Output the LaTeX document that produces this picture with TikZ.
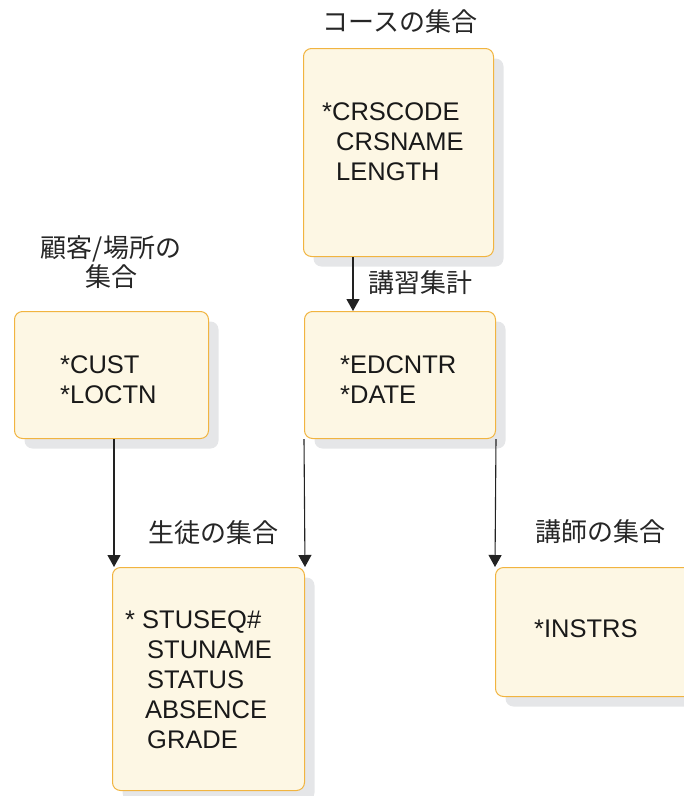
\documentclass[tikz,border=0pt]{standalone}
\usepackage{fontspec}
\setmainfont{Liberation Sans}
\newfontfamily\jpfont{Noto Sans CJK JP}
\usetikzlibrary{arrows.meta,calc,shadows}
\definecolor{BoxFill}{RGB}{253,247,228}
\definecolor{BoxLine}{RGB}{241,180,64}
\definecolor{ShadowClr}{RGB}{229,230,232}
\definecolor{LineClr}{RGB}{34,34,34}

\tikzset{
  setbox/.style={rectangle,rounded corners=8pt,draw=BoxLine,line width=1pt,
    fill=BoxFill,inner sep=0pt,anchor=north west,
    general shadow={fill=ShadowClr,shadow xshift=10pt,shadow yshift=-10pt}},
  fields/.style={anchor=base west,inner sep=0pt,align=left,
    font=\fontsize{25.5}{30}\selectfont,text=black!90},
  setname/.style={inner sep=0pt,align=center,
    font=\jpfont\fontsize{26}{29}\selectfont,text=black!85},
  link/.style={draw=LineClr,line width=1.1pt,-{Triangle[length=12pt,width=13pt]}}
}

\begin{document}
\begin{tikzpicture}[x=1pt,y=-1pt]
\clip (0,0) rectangle (684,796);

% record boxes
\node[setbox,minimum width=190pt,minimum height=208pt] (crs) at (303,48) {};
\node[setbox,minimum width=191pt,minimum height=127pt] (edc) at (304,311) {};
\node[setbox,minimum width=194pt,minimum height=127pt] (cst) at (14,311) {};
\node[setbox,minimum width=192pt,minimum height=223pt] (stu) at (112,567) {};
\node[setbox,minimum width=210pt,minimum height=129pt] (ins) at (495,567) {};

% fields (base = last line)
\node[fields] (crsfld) at ([shift={(19,132)}]crs.north west)
  {*CRSCODE\\\hspace*{14pt}CRSNAME\\\hspace*{14pt}LENGTH};
\node[fields] (edcfld) at ([shift={(36,92)}]edc.north west) {*EDCNTR\\*DATE};
\node[fields] (cstfld) at ([shift={(46,92)}]cst.north west) {*CUST\\*LOCTN};
\node[fields] (stufld) at ([shift={(13,181)}]stu.north west)
  {* STUSEQ\#\\\hspace*{22pt}STUNAME\\\hspace*{22pt}STATUS\\\hspace*{20pt}ABSENCE\\\hspace*{22pt}GRADE};
\node[fields] (insfld) at ([shift={(39,70)}]ins.north west) {*INSTRS};

% set names
\node[setname] (crslbl) at (400,22) {コースの集合};
\node[setname,anchor=west] (edclbl) at (368,283) {講習集計};
\node[setname] (cstlbl) at (111,262) {顧客/場所の\\集合};
\node[setname] (stulbl) at (213,533) {生徒の集合};
\node[setname] (inslbl) at (600,532) {講師の集合};

% connectors
\draw[link] ([xshift=50pt]crs.south west) -- ([xshift=49pt]edc.north west);
\draw[link] ([xshift=100pt]cst.south west) -- ([xshift=2pt]stu.north west);
\draw[link] (edc.south west) -- (stu.north east);
\draw[link] (edc.south east) -- (ins.north west);

\end{tikzpicture}
\end{document}
